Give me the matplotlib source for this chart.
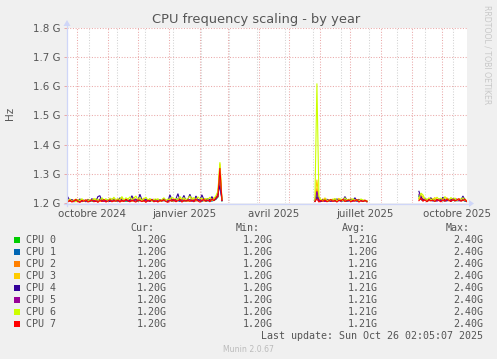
import numpy as np
import pandas as pd
import matplotlib
matplotlib.use("Agg")
import matplotlib.pyplot as plt
from matplotlib.lines import Line2D
from matplotlib.patches import Polygon, Rectangle

# ---------------- data (MHz above the 1200 MHz floor, one point per 2 days) ----------------
series_names = ["CPU 0", "CPU 1", "CPU 2", "CPU 3", "CPU 4", "CPU 5", "CPU 6", "CPU 7"]
series_colors = ["#00CC00", "#0066B3", "#FF8000", "#FFCC00", "#330099", "#990099", "#CCFF00", "#FF0000"]
base_mhz = 1200

seg_starts = ["2024-09-22", "2025-05-27", "2025-09-08"]

cpu0_a = [6,9,7,5,10,8,6,11,7,9, 5,8,10,6,9,7,12,16,8,6, 10,7,9,11,6,8,10,7,9,6, 8,10,7,9,11,6,8,10,7,9,
          11,6,9,7,10,8,6,9,11,7, 8,10,6,9,7,11,8,10,6,9, 7,9,11,6,10,8,9,7,11,6, 9,7,10,8,13,20,90,8]
cpu1_a = [5,8,6,9,7,10,4,8,6,9, 7,10,5,8,11,6,9,7,10,5, 8,6,10,7,9,11,6,8,10,7, 9,5,8,10,6,9,12,7,8,6,
          10,7,9,5,8,11,6,10,7,9, 6,9,11,7,10,8,5,9,12,7, 8,10,6,9,7,11,8,6,10,8, 7,9,6,11,14,22,95,7]
cpu2_a = [7,9,5,10,6,8,11,4,9,7, 10,6,8,12,5,9,7,11,6,8, 9,7,12,6,10,8,11,5,9,13, 8,11,6,9,12,7,10,8,6,11,
          7,9,12,6,10,8,5,11,9,7, 12,8,10,6,11,9,13,7,10,8, 6,11,9,13,7,10,8,12,6,9, 10,7,11,9,15,25,100,8]
cpu3_a = [8,5,11,7,14,6,9,12,5,8, 13,6,10,7,15,9,5,11,8,14, 6,12,9,16,7,13,10,18,8,11, 15,7,12,20,10,8,14,11,17,6,
          9,13,7,11,14,8,10,6,12,9, 7,15,10,13,8,11,16,9,14,7, 12,9,18,11,15,8,13,10,16,12, 9,14,11,18,20,35,135,11]
cpu4_a = [20,8,12,5,10,7,14,6,9,4, 11,6,15,8,5,22,25,6,12,7, 10,5,14,8,11,6,18,9,7,13, 6,10,25,9,12,7,30,11,8,14,
          9,6,13,8,11,5,10,7,16,9, 6,28,12,8,14,32,9,11,26,8, 13,30,10,7,24,12,9,28,11,8, 15,10,22,9,14,30,60,10]
cpu5_a = [10,6,9,4,8,11,5,7,10,6, 8,5,12,7,9,6,14,8,5,10, 7,11,6,9,13,8,5,10,7,12, 9,6,11,8,14,7,10,5,12,8,
          6,10,8,13,5,9,11,7,14,6, 10,7,12,9,6,15,8,11,7,13, 9,12,6,10,14,8,11,7,13,9, 11,8,13,10,16,28,110,9]
cpu6_a = [6,14,5,9,4,12,8,15,6,10, 5,12,7,16,9,13,6,18,10,14, 8,17,11,20,9,15,12,22,10,18, 13,21,9,16,24,11,19,8,14,20,
          10,16,7,13,9,15,6,12,18,8, 14,10,20,12,16,9,22,13,18,11, 15,24,12,19,9,21,14,17,10,16, 12,20,9,15,25,40,140,12]
cpu7_a = [4,10,3,8,12,5,2,9,6,11, 3,7,10,4,8,2,9,5,12,3, 7,11,4,8,6,10,3,9,5,12, 7,4,10,6,3,11,8,5,9,2,
          10,6,12,4,8,3,9,7,11,5, 2,10,6,13,4,8,12,3,9,6, 11,5,10,4,13,7,3,9,12,6, 10,4,14,8,18,22,120,9]

cpu0_b = [6,30,9,7,10,6,8,9,7,11, 6,8,10,7,9,8,6,10,7,9, 8,10,6,9,7,8,6]
cpu1_b = [5,35,8,6,9,7,10,5,8,7, 9,6,10,8,7,9,6,11,8,7, 9,6,8,10,7,6,5]
cpu2_b = [7,50,12,8,14,6,9,11,7,10, 13,6,9,8,11,7,10,12,6,9, 8,11,7,10,6,9,7]
cpu3_b = [7,80,15,10,6,18,9,12,7,14, 8,11,16,9,13,7,12,10,15,8, 11,9,13,7,10,6,8]
cpu4_b = [6,20,9,5,11,7,13,8,6,10, 9,14,7,11,8,22,10,6,13,9, 18,7,11,8,6,9,5]
cpu5_b = [6,40,10,7,9,5,11,8,6,10, 7,9,12,6,8,14,7,10,9,6, 11,8,7,9,6,8,5]
cpu6_b = [8,410,22,12,7,15,10,6,13,9, 16,8,12,14,7,18,10,13,8,15, 9,11,6,14,10,8,5]
cpu7_b = [5,14,3,9,6,11,4,8,12,5, 9,3,10,7,13,5,8,11,4,9, 6,12,3,8,5,10,4]

cpu0_c = [25,14,9,11,7,10,8,12,6,9, 11,8,10,7,9,12,8,10,7,11, 9,8,10,7,6]
cpu1_c = [22,12,8,10,6,9,12,7,10,8, 9,11,7,10,8,12,6,9,11,7, 10,8,9,7,5]
cpu2_c = [15,24,12,9,13,7,11,10,14,8, 12,9,16,8,11,7,13,10,9,12, 8,14,9,11,6]
cpu3_c = [18,30,20,10,14,8,16,12,19,9, 13,15,8,12,18,10,14,9,17,11, 8,13,10,15,6]
cpu4_c = [40,22,10,15,8,12,18,7,11,9, 14,8,20,10,7,13,9,16,8,11, 12,9,24,10,6]
cpu5_c = [30,15,9,12,7,10,14,8,11,6, 12,9,15,7,10,13,8,11,9,14, 7,10,12,8,5]
cpu6_c = [12,34,28,14,9,18,11,15,8,20, 13,17,10,22,14,9,19,12,16,8, 14,11,18,9,7]
cpu7_c = [8,16,6,11,4,12,7,10,5,13, 8,4,11,6,14,9,5,12,7,10, 15,6,9,12,5]

cur_vals = ["1.20G"] * 8
min_vals = ["1.20G"] * 8
avg_vals = ["1.21G", "1.20G", "1.21G", "1.21G", "1.21G", "1.21G", "1.21G", "1.21G"]
max_vals = ["2.40G"] * 8

y_ticks = [1.2e9, 1.3e9, 1.4e9, 1.5e9, 1.6e9, 1.7e9, 1.8e9]
y_labels = ["1.2 G", "1.3 G", "1.4 G", "1.5 G", "1.6 G", "1.7 G", "1.8 G"]
x_label_dates = ["2024-10-16", "2025-01-16", "2025-04-16", "2025-07-16", "2025-10-16"]
x_labels = ["octobre 2024", "janvier 2025", "avril 2025", "juillet 2025", "octobre 2025"]

seg_a = [cpu0_a, cpu1_a, cpu2_a, cpu3_a, cpu4_a, cpu5_a, cpu6_a, cpu7_a]
seg_b = [cpu0_b, cpu1_b, cpu2_b, cpu3_b, cpu4_b, cpu5_b, cpu6_b, cpu7_b]
seg_c = [cpu0_c, cpu1_c, cpu2_c, cpu3_c, cpu4_c, cpu5_c, cpu6_c, cpu7_c]

# ---------------- figure ----------------
W, H = 497, 359
TXT = "#555555"
AXC = "#CFD6F8"
fig = plt.figure(figsize=(W / 100, H / 100), dpi=100, facecolor="#F0F0F0")
ax = fig.add_axes([67 / W, 1 - 203 / H, 400 / W, 175 / H])
ax.set_facecolor("white")
for s in ax.spines.values():
    s.set_visible(False)

t_end = pd.Timestamp("2025-10-26 02:05")
t_start = t_end - pd.Timedelta(days=400)
ax.set_xlim(t_start, t_end)
ax.set_ylim(1.2e9, 1.8e9)

# grid
minor_dates = pd.date_range("2024-10-13", "2025-10-26", freq="28D")
major_dates = pd.date_range("2024-10-01", "2025-10-01", freq="MS")
for d in minor_dates:
    ax.axvline(d, color="#D2D2D2", lw=0.75, ls=(0, (1, 1.6)), zorder=1)
for d in major_dates:
    ax.axvline(d, color="#EAA8A8", lw=0.75, ls=(0, (1, 1.6)), zorder=1)
for yv in y_ticks[1:]:
    ax.axhline(yv, color="#EAA8A8", lw=0.75, ls=(0, (1, 1.6)), zorder=1)

# data
for k in range(8):
    for start, seg in zip(seg_starts, (seg_a, seg_b, seg_c)):
        vals = np.array(seg[k], dtype=float)
        dates = pd.date_range(start, periods=len(vals), freq="2D")
        ax.plot(dates, (base_mhz + vals) * 1e6, color=series_colors[k], lw=0.8, zorder=3 + k,
                solid_joinstyle="miter")

# ticks
ax.set_yticks(y_ticks)
ax.set_yticklabels(y_labels)
ax.set_xticks(pd.to_datetime(x_label_dates))
ax.set_xticklabels(x_labels)
ax.tick_params(axis="x", length=0, pad=4, labelsize=7.4, labelcolor=TXT)
ax.tick_params(axis="y", length=2, width=0.7, color="#EAA8A8", pad=3, labelsize=7.4, labelcolor=TXT)

# axes lines with arrows
fx = lambda px: px / W
fy = lambda py: 1 - py / H
fig.add_artist(Line2D([fx(64), fx(470)], [fy(203.5), fy(203.5)], color=AXC, lw=0.9))
fig.add_artist(Line2D([fx(67), fx(67)], [fy(206), fy(24)], color=AXC, lw=0.9))
fig.add_artist(Polygon([[fx(469), fy(200)], [fx(474), fy(203.5)], [fx(469), fy(207)]], closed=True,
                       color=AXC, lw=0))
fig.add_artist(Polygon([[fx(63.5), fy(26)], [fx(67), fy(20)], [fx(70.5), fy(26)]], closed=True,
                       color=AXC, lw=0))

# titles
fig.text(fx(256), fy(19), "CPU frequency scaling - by year", ha="center", va="center",
         fontsize=9.4, color=TXT)
fig.text(fx(10), fy(113), "Hz", ha="center", va="center", rotation=90, fontsize=7.4, color=TXT)
fig.text(fx(487), fy(5), "RRDTOOL / TOBI OETIKER", ha="center", va="top", rotation=270,
         fontsize=5.6, color="#C8C8C8")

# legend
mono = dict(family="DejaVu Sans Mono", fontsize=7.2, color=TXT, va="center")
fig.text(fx(154), fy(228), "Cur:", ha="right", **mono)
fig.text(fx(260), fy(228), "Min:", ha="right", **mono)
fig.text(fx(366), fy(228), "Avg:", ha="right", **mono)
fig.text(fx(470), fy(228), "Max:", ha="right", **mono)
for k in range(8):
    yy = 240 + 12 * k
    fig.add_artist(Rectangle((fx(14), fy(yy + 3)), 6 / W, 6 / H, color=series_colors[k], lw=0))
    fig.text(fx(26), fy(yy), series_names[k], ha="left", **mono)
    fig.text(fx(167), fy(yy), cur_vals[k], ha="right", **mono)
    fig.text(fx(273), fy(yy), min_vals[k], ha="right", **mono)
    fig.text(fx(378), fy(yy), avg_vals[k], ha="right", **mono)
    fig.text(fx(483), fy(yy), max_vals[k], ha="right", **mono)
fig.text(fx(483), fy(336), "Last update: Sun Oct 26 02:05:07 2025", ha="right", **mono)
fig.text(fx(248), fy(349), "Munin 2.0.67", ha="center", va="center", fontsize=5.6, color="#BBBBBB")

fig.savefig("out.png", dpi=100, facecolor=fig.get_facecolor())
